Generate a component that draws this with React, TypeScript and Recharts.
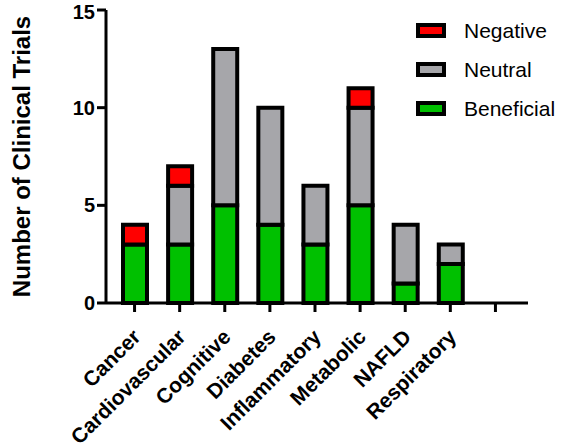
import React from 'react';
import { BarChart, Bar, XAxis, YAxis } from 'recharts';

const categories = ['Cancer', 'Cardiovascular', 'Cognitive', 'Diabetes', 'Inflammatory', 'Metabolic', 'NAFLD', 'Respiratory', ''];
const beneficial = [3, 3, 5, 4, 3, 5, 1, 2, 0];
const neutral = [0, 3, 8, 6, 3, 5, 3, 1, 0];
const negative = [1, 1, 0, 0, 0, 1, 0, 0, 0];
const yTicks = [0, 5, 10, 15];

const chartData = categories.map((name, i) => ({
  name,
  Beneficial: beneficial[i],
  Neutral: neutral[i],
  Negative: negative[i],
}));

const legendItems = [
  { label: 'Negative', color: '#ff0000' },
  { label: 'Neutral', color: '#a6a6aa' },
  { label: 'Beneficial', color: '#00c000' },
];

const FONT = 'Arial, "Liberation Sans", Helvetica, sans-serif';

const XTick = (props: any) => {
  const { x, y, payload } = props;
  return (
    <g transform={`translate(${x + 3},${y + 20})`}>
      <text
        transform="rotate(-45)"
        textAnchor="end"
        fontFamily={FONT}
        fontWeight="bold"
        fontSize={21}
        fill="#000"
        dy={6}
      >
        {payload.value}
      </text>
    </g>
  );
};

// legend drawn as an overlay so it doesn't shrink the plot area
const ChartLegend = () => (
  <div style={{ position: 'absolute', top: 11, left: 416, fontFamily: FONT }}>
    {legendItems.map((item) => (
      <div key={item.label} style={{ display: 'flex', alignItems: 'center', height: 39 }}>
        <div
          style={{
            width: 22,
            height: 7,
            background: item.color,
            border: '4px solid #000',
            marginRight: 18,
          }}
        />
        <span style={{ fontSize: 21, color: '#000' }}>{item.label}</span>
      </div>
    ))}
  </div>
);

export default function App() {
  return (
    <div style={{ position: 'relative', width: 566, height: 447, background: '#fff' }}>
      <style>{`body{margin:0}`}</style>
      <BarChart
        width={566}
        height={447}
        data={chartData}
        margin={{ top: 10, right: 38, bottom: 0, left: 0 }}
        barSize={24}
      >
        <XAxis
          dataKey="name"
          height={144}
          interval={0}
          padding={{ left: 6, right: 10 }}
          axisLine={{ stroke: '#000', strokeWidth: 3 }}
          tickLine={{ stroke: '#000', strokeWidth: 3 }}
          tickSize={9}
          tick={<XTick />}
        />
        <YAxis
          width={106}
          domain={[0, 15]}
          ticks={yTicks}
          axisLine={{ stroke: '#000', strokeWidth: 3 }}
          tickLine={{ stroke: '#000', strokeWidth: 3 }}
          tickSize={9}
          tick={{ fill: '#000', fontSize: 20, fontWeight: 'bold', fontFamily: FONT }}
          label={{
            value: 'Number of Clinical Trials',
            angle: -90,
            position: 'insideLeft',
            dx: 16,
            style: { textAnchor: 'middle', fill: '#000', fontSize: 24, fontWeight: 'bold', fontFamily: FONT },
          }}
        />
        <Bar dataKey="Beneficial" stackId="a" fill="#00c000" stroke="#000" strokeWidth={4} isAnimationActive={false} />
        <Bar dataKey="Neutral" stackId="a" fill="#a6a6aa" stroke="#000" strokeWidth={4} isAnimationActive={false} />
        <Bar dataKey="Negative" stackId="a" fill="#ff0000" stroke="#000" strokeWidth={4} isAnimationActive={false} />
      </BarChart>
      <ChartLegend />
    </div>
  );
}
